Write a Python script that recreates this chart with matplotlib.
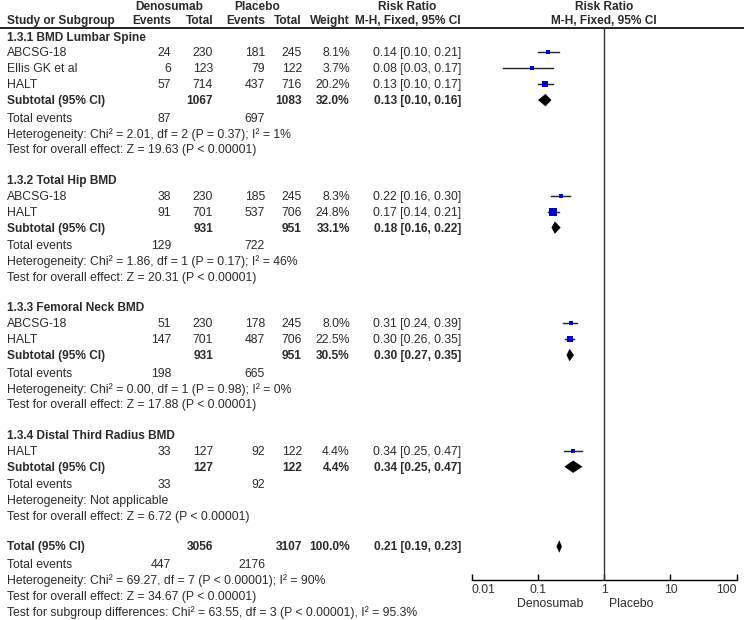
import matplotlib
matplotlib.use("Agg")
import matplotlib.pyplot as plt
import numpy as np

plt.rcParams['font.family'] = ['Liberation Sans', 'DejaVu Sans']

# ---------------- data ----------------
group_titles = ["1.3.1 BMD Lumbar Spine", "1.3.2 Total Hip BMD",
                "1.3.3 Femoral Neck BMD", "1.3.4 Distal Third Radius BMD"]
study_names = [["ABCSG-18", "Ellis GK et al", "HALT"],
               ["ABCSG-18", "HALT"],
               ["ABCSG-18", "HALT"],
               ["HALT"]]
deno_events = [[24, 6, 57], [38, 91], [51, 147], [33]]
deno_total = [[230, 123, 714], [230, 701], [230, 701], [127]]
plac_events = [[181, 79, 437], [185, 537], [178, 487], [92]]
plac_total = [[245, 122, 716], [245, 706], [245, 706], [122]]
weights = [[8.1, 3.7, 20.2], [8.3, 24.8], [8.0, 22.5], [4.4]]
rr = [[0.14, 0.08, 0.13], [0.22, 0.17], [0.31, 0.30], [0.34]]
rr_lo = [[0.10, 0.03, 0.10], [0.16, 0.14], [0.24, 0.26], [0.25]]
rr_hi = [[0.21, 0.17, 0.17], [0.30, 0.21], [0.39, 0.35], [0.47]]

sub_deno_total = [1067, 931, 931, 127]
sub_plac_total = [1083, 951, 951, 122]
sub_weight = [32.0, 33.1, 30.5, 4.4]
sub_rr = [0.13, 0.18, 0.30, 0.34]
sub_lo = [0.10, 0.16, 0.27, 0.25]
sub_hi = [0.16, 0.22, 0.35, 0.47]
sub_deno_events = [87, 129, 198, 33]
sub_plac_events = [697, 722, 665, 92]
sub_het = ["Heterogeneity: Chi\u00b2 = 2.01, df = 2 (P = 0.37); I\u00b2 = 1%",
           "Heterogeneity: Chi\u00b2 = 1.86, df = 1 (P = 0.17); I\u00b2 = 46%",
           "Heterogeneity: Chi\u00b2 = 0.00, df = 1 (P = 0.98); I\u00b2 = 0%",
           "Heterogeneity: Not applicable"]
sub_test = ["Test for overall effect: Z = 19.63 (P < 0.00001)",
            "Test for overall effect: Z = 20.31 (P < 0.00001)",
            "Test for overall effect: Z = 17.88 (P < 0.00001)",
            "Test for overall effect: Z = 6.72 (P < 0.00001)"]

tot_deno_total, tot_plac_total, tot_weight = 3056, 3107, 100.0
tot_rr, tot_lo, tot_hi = 0.21, 0.19, 0.23
tot_deno_events, tot_plac_events = 447, 2176
tot_het = "Heterogeneity: Chi\u00b2 = 69.27, df = 7 (P < 0.00001); I\u00b2 = 90%"
tot_test = "Test for overall effect: Z = 34.67 (P < 0.00001)"
tot_sub = "Test for subgroup differences: Chi\u00b2 = 63.55, df = 3 (P < 0.00001), I\u00b2 = 95.3%"

xticks = [0.01, 0.1, 1, 10, 100]
xticklabels = ["0.01", "0.1", "1", "10", "100"]

# ---------------- layout ----------------
W, H = 744, 620
fig = plt.figure(figsize=(W / 100, H / 100), dpi=100)
ax = fig.add_axes([0, 0, 1, 1])
ax.set_xlim(0, W)
ax.set_ylim(H, 0)
ax.axis('off')

FS = 8.8
TC = '#2a2a2a'

AX_L, AX_R, AX_T, AX_B = 471.7, 736.7, 28.3, 579.5
axf = fig.add_axes([AX_L / W, (H - AX_B) / H, (AX_R - AX_L) / W, (AX_B - AX_T) / H])
axf.set_xscale('log')
axf.set_xlim(0.01, 100)
axf.set_ylim(AX_B, AX_T)
axf.patch.set_alpha(0)
for s in ['left', 'right', 'top']:
    axf.spines[s].set_visible(False)
axf.spines['bottom'].set_linewidth(1.0)
axf.set_yticks([])
axf.set_xticks(xticks)
axf.set_xticklabels(xticklabels)
axf.xaxis.set_minor_locator(matplotlib.ticker.NullLocator())
axf.tick_params(axis='x', direction='in', length=4, width=1, pad=3.5,
                labelsize=FS, labelcolor='#333333')
tl = axf.get_xticklabels()
tl[0].set_horizontalalignment('left')
tl[-1].set_horizontalalignment('right')
axf.axvline(1, color='#333333', lw=1.0)

X_NAME = 7
X_E1, X_T1, X_E2, X_T2, X_W, X_RR = 171, 213, 265, 302, 350, 461

def txt(x, y, s, ha='left', bold=False):
    ax.text(x, y + 1, s, ha=ha, va='center', fontsize=FS, color=TC,
            fontweight='bold' if bold else 'normal')

def btxt(x, y, s, ha='left'):
    ax.text(x, y + 1, s, ha=ha, va='center', fontsize=8.6, color=TC,
            fontweight='bold')

# headers
btxt(169, 6, "Denosumab", ha='center')
btxt(257, 6, "Placebo", ha='center')
btxt(407, 6, "Risk Ratio", ha='center')
btxt(604, 6, "Risk Ratio", ha='center')
y_h2 = 20
btxt(X_NAME, y_h2, "Study or Subgroup")
btxt(X_E1, y_h2, "Events", ha='right')
btxt(X_T1, y_h2, "Total", ha='right')
btxt(X_E2, y_h2, "Events", ha='right')
btxt(X_T2, y_h2, "Total", ha='right')
btxt(X_W, y_h2, "Weight", ha='right')
btxt(408, y_h2, "M-H, Fixed, 95% CI", ha='center')
btxt(604, y_h2, "M-H, Fixed, 95% CI", ha='center')
ax.plot([0, W], [AX_T, AX_T], color='#111111', lw=1.3)

STEP = 15.9
DH = 6.2  # half diamond height (px)

def rr_str(r, lo, hi):
    return f"{r:.2f} [{lo:.2f}, {hi:.2f}]"

def diamond(r, lo, hi, y):
    axf.fill([lo, r, hi, r], [y, y - DH, y, y + DH], color='black', lw=0)

y = 36.5
for g in range(len(group_titles)):
    btxt(X_NAME, y, group_titles[g])
    for i, name in enumerate(study_names[g]):
        y += STEP
        txt(X_NAME, y, name)
        txt(X_E1, y, str(deno_events[g][i]), ha='right')
        txt(X_T1, y, str(deno_total[g][i]), ha='right')
        txt(X_E2, y, str(plac_events[g][i]), ha='right')
        txt(X_T2, y, str(plac_total[g][i]), ha='right')
        txt(X_W, y, f"{weights[g][i]:.1f}%", ha='right')
        txt(X_RR, y, rr_str(rr[g][i], rr_lo[g][i], rr_hi[g][i]), ha='right')
        axf.plot([rr_lo[g][i], rr_hi[g][i]], [y, y], color='#222222', lw=1.0, zorder=2)
        side_px = max(3.6, 1.45 * np.sqrt(weights[g][i]))
        axf.plot([rr[g][i]], [y], marker='s', ms=side_px / 1.389, zorder=3,
                 color='#0000cc', mec='#0000cc', mew=0)
    y += STEP
    btxt(X_NAME, y, "Subtotal (95% CI)")
    btxt(X_T1, y, str(sub_deno_total[g]), ha='right')
    btxt(X_T2, y, str(sub_plac_total[g]), ha='right')
    btxt(X_W, y, f"{sub_weight[g]:.1f}%", ha='right')
    btxt(X_RR, y, rr_str(sub_rr[g], sub_lo[g], sub_hi[g]), ha='right')
    diamond(sub_rr[g], sub_lo[g], sub_hi[g], y)
    y += STEP + 1.6
    txt(X_NAME, y, "Total events")
    txt(X_E1, y, str(sub_deno_events[g]), ha='right')
    txt(X_E2, y, str(sub_plac_events[g]), ha='right')
    y += STEP
    txt(X_NAME, y, sub_het[g])
    y += STEP
    txt(X_NAME, y, sub_test[g])
    y += 30.5

btxt(X_NAME, y, "Total (95% CI)")
btxt(X_T1, y, str(tot_deno_total), ha='right')
btxt(X_T2, y, str(tot_plac_total), ha='right')
btxt(X_W, y, f"{tot_weight:.1f}%", ha='right')
btxt(X_RR, y, rr_str(tot_rr, tot_lo, tot_hi), ha='right')
diamond(tot_rr, tot_lo, tot_hi, y)
y += STEP + 1.6
txt(X_NAME, y, "Total events")
txt(X_E1, y, str(tot_deno_events), ha='right')
txt(X_E2, y, str(tot_plac_events), ha='right')
y += STEP
txt(X_NAME, y, tot_het)
y += STEP
txt(X_NAME, y, tot_test)
y += STEP
txt(X_NAME, y, tot_sub)

# favours labels
txt(583, 603, "Denosumab", ha='right')
txt(609, 603, "Placebo", ha='left')

fig.savefig("out.png", dpi=100)
